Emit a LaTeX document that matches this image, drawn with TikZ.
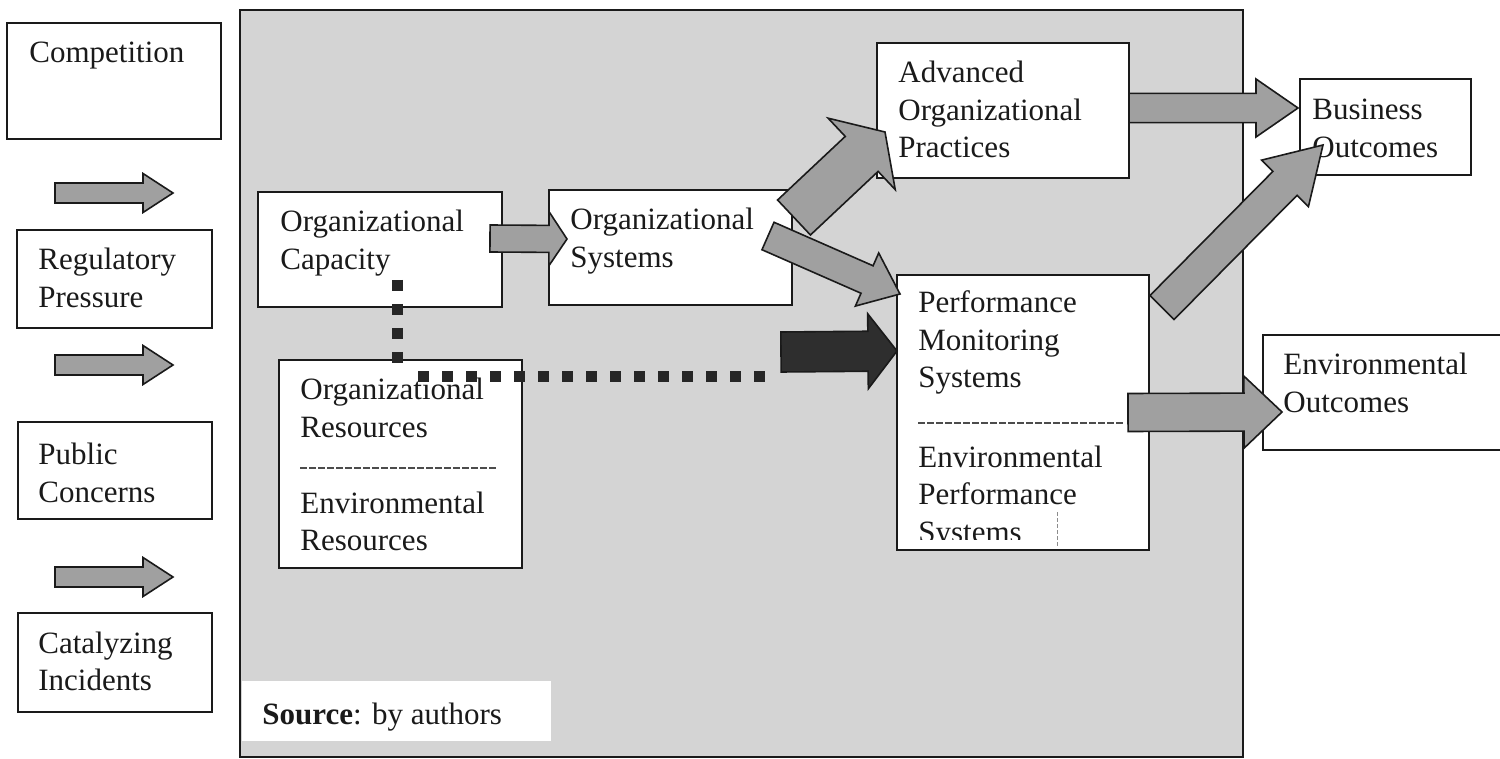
\documentclass[tikz,border=0pt]{standalone}
\usepackage{fontspec}
\setmainfont{Liberation Serif}
\usetikzlibrary{calc,fit}
\definecolor{panelgray}{HTML}{D4D4D4}
\definecolor{arrowgray}{HTML}{A0A0A0}
\definecolor{inkc}{HTML}{1A1A1A}
\newcommand\tl[1]{\begin{tabular}[t]{@{}l@{}}#1\end{tabular}}
% block arrow: style, tail, tip, half shaft, half head, head length
\newcommand\barrow[6]{%
  \coordinate (bb) at ($(#3)!#6!(#2)$);
  \draw[#1] ($(#2)!#4!90:(#3)$) -- ($(bb)!#4!90:(#3)$) -- ($(bb)!#5!90:(#3)$) -- (#3)
    -- ($(bb)!#5!-90:(#3)$) -- ($(bb)!#4!-90:(#3)$) -- ($(#2)!#4!-90:(#3)$) -- cycle;}
\begin{document}
\begin{tikzpicture}[x=0.5pt,y=-0.5pt,
  box/.style={draw=inkc, line width=1pt, fill=white, inner sep=0pt},
  txt/.style={anchor=base west, inner sep=0pt, font=\fontsize{15.5pt}{18.75pt}\selectfont, text=inkc},
  garrow/.style={draw=inkc, line width=0.8pt, fill=arrowgray, line join=miter},
  darrow/.style={draw=inkc, line width=0.8pt, fill=black!82, line join=miter},
  sepline/.style={draw=black!70, line width=0.6pt, dash pattern=on 3.5pt off 1pt},
  sqline/.style={draw=black!85, line width=5.5pt, dash pattern=on 5.5pt off 6.5pt}]
\useasboundingbox (0,0) rectangle (1500,759);
\fill[white] (0,0) rectangle (1500,759);

% panel
\node[draw=inkc, line width=1.2pt, fill=panelgray, inner sep=0pt, fit={(240,10) (1243,757)}] (panel) {};

% left column
\node[box, fit={(7,23) (221,139)}] (comp) {};
\node[txt] (compt) at (29,63) {Competition};
\node[box, fit={(17,230) (212,328)}] (reg) {};
\node[txt] (regt) at (38,270) {\tl{Regulatory\\Pressure}};
\node[box, fit={(18,422) (212,519)}] (pub) {};
\node[txt] (pubt) at (38,465) {\tl{Public\\Concerns}};
\node[box, fit={(18,613) (212,712)}] (cat) {};
\node[txt] (catt) at (38,653) {\tl{Catalyzing\\Incidents}};

% inner boxes
\node[box, fit={(258,192) (502,307)}] (cap) {};
\node[txt] (capt) at (280,232) {\tl{Organizational\\Capacity}};
\node[box, fit={(549,190) (792,305)}] (sys) {};
\node[txt] (syst) at (570,230) {\tl{Organizational\\Systems}};
\node[box, fit={(279,360) (522,568)}] (res) {};
\node[txt] (rest1) at (300,400) {\tl{Organizational\\Resources}};
\node[txt] (rest2) at (300,513) {\tl{Environmental\\Resources}};
\coordinate (rs1) at (300,468);
\coordinate (rs2) at (497,468);
\draw[sepline] (rs1) -- (rs2);

\node[box, fit={(877,43) (1129,178)}] (adv) {};
\node[txt] (advt) at (898,83) {\tl{Advanced\\Organizational\\Practices}};

\node[box, fit={(897,275) (1149,550)}] (pms) {};
\node[txt] (pmst1) at (918,313) {\tl{Performance\\Monitoring\\Systems}};
\coordinate (ps1) at (918,423);
\coordinate (ps2) at (1125,423);
\draw[sepline] (ps1) -- (ps2);
\begin{scope}
\clip (897,275) rectangle (1149,539);
\node[txt] (pmst2) at (918,467) {\tl{Environmental\\Performance\\Systems}};
\end{scope}
\coordinate (art1) at (1057,512);
\coordinate (art2) at (1057,546);
\draw[black!45, line width=0.3pt, dash pattern=on 2pt off 1pt] (art1) -- (art2);

\node[box, fit={(1300,79) (1471,175)}] (bus) {};
\node[txt] (bust) at (1312,120) {\tl{Business\\Outcomes}};

\node[fill=white, inner sep=0pt, fit={(1263,335) (1500,450)}] (env) {};
\draw[inkc, line width=1pt] (env.north east) -- (env.north west) -- (env.south west) -- (env.south east);
\node[txt] (envt) at (1283,375) {\tl{Environmental\\Outcomes}};

\node[fill=white, inner sep=0pt, fit={(242,681) (551,741)}] (src) {};
\node[txt] (srct) at (262,724) {\textbf{Source}: by authors};

% arrow end points
\coordinate (l1a) at (55,193);  \coordinate (l1b) at (173,193);
\coordinate (l2a) at (55,365);  \coordinate (l2b) at (173,365);
\coordinate (l3a) at (55,577);  \coordinate (l3b) at (173,577);
\coordinate (csa) at (490,238.5); \coordinate (csb) at (567,239);
\coordinate (saa) at (794,217.5); \coordinate (sab) at (885,132);
\coordinate (spa) at (768,236); \coordinate (spb) at (900,294);
\coordinate (dka) at (781,352); \coordinate (dkb) at (897,351);
\coordinate (aba) at (1129,108); \coordinate (abb) at (1298,108);
\coordinate (pba) at (1162,307.5); \coordinate (pbb) at (1323,145);
\coordinate (pea) at (1128,412.5); \coordinate (peb) at (1282,412);

\barrow{garrow}{l1a}{l1b}{5pt}{9.75pt}{15pt}
\barrow{garrow}{l2a}{l2b}{5pt}{9.75pt}{15pt}
\barrow{garrow}{l3a}{l3b}{5pt}{9.75pt}{15pt}
\barrow{garrow}{csa}{csb}{6.75pt}{13.5pt}{9pt}
\barrow{garrow}{saa}{sab}{12pt}{24.5pt}{16pt}
\barrow{garrow}{spa}{spb}{7.5pt}{14.5pt}{18pt}
\barrow{darrow}{dka}{dkb}{10pt}{18.75pt}{14.5pt}
\barrow{garrow}{aba}{abb}{7.3pt}{14.5pt}{21pt}
\barrow{garrow}{pba}{pbb}{8.5pt}{16.5pt}{27pt}
\barrow{garrow}{pea}{peb}{9.5pt}{18pt}{19pt}

% square-dotted connectors
\coordinate (dv1) at (397,280);
\coordinate (dv2) at (397,363);
\draw[sqline] (dv1) -- (dv2);
\coordinate (dh1) at (418,377);
\coordinate (dh2) at (775,377);
\draw[sqline] (dh1) -- (dh2);
\end{tikzpicture}
\end{document}
